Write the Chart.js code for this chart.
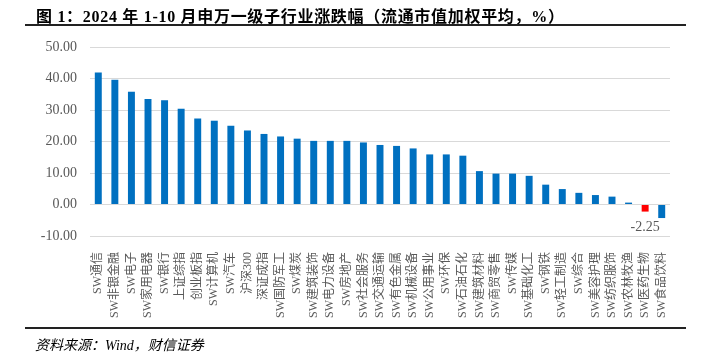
<!DOCTYPE html>
<html>
<head>
<meta charset="utf-8">
<script src="https://cdn.jsdelivr.net/npm/chart.js@4.4.1/dist/chart.umd.min.js"></script>
<style>
  html, body { margin: 0; padding: 0; background: #fff; }
  #wrap { position: relative; width: 706px; height: 361px; overflow: hidden; }
  #chart { position: absolute; left: 0; top: 0; }
  .titulo {
    position: absolute; left: 36px; top: 3px; white-space: nowrap; letter-spacing: 0.7px;
    font: bold 16px "Liberation Serif", "Noto Sans CJK SC", serif; color: #000;
  }
  .linea { position: absolute; left: 25px; width: 661px; background: #222; }
  .fuente {
    position: absolute; left: 35px; top: 334px; white-space: nowrap;
    font: italic 14px "Liberation Serif", "Noto Sans CJK SC", serif; color: #000;
  }
</style>
</head>
<body>
<div id="wrap">
  <canvas id="chart" width="706" height="361"></canvas>
  <div class="titulo">图 1：2024 年 1-10 月申万一级子行业涨跌幅（流通市值加权平均，%）</div>
  <div class="linea" style="top:24px;height:1.5px"></div>
  <div class="linea" style="top:327px;height:1.5px"></div>
  <div class="fuente">资料来源：Wind，财信证券</div>
</div>
<script>
/* ── Datos ── */
const categorias = [
  'SW通信', 'SW非银金融', 'SW电子', 'SW家用电器', 'SW银行', '上证综指', '创业板指',
  'SW计算机', 'SW汽车', '沪深300', '深证成指', 'SW国防军工', 'SW煤炭', 'SW建筑装饰',
  'SW电力设备', 'SW房地产', 'SW社会服务', 'SW交通运输', 'SW有色金属', 'SW机械设备',
  'SW公用事业', 'SW环保', 'SW石油石化', 'SW建筑材料', 'SW商贸零售', 'SW传媒',
  'SW基础化工', 'SW钢铁', 'SW轻工制造', 'SW综合', 'SW美容护理', 'SW纺织服饰',
  'SW农林牧渔', 'SW医药生物', 'SW食品饮料'
];
const valores = [
  41.9, 39.6, 35.8, 33.5, 33.1, 30.4, 27.3, 26.6, 25.0, 23.5, 22.4, 21.6, 20.9, 20.2,
  20.2, 20.2, 19.7, 18.9, 18.6, 17.8, 15.9, 15.9, 15.5, 10.6, 9.8, 9.8, 9.1, 6.3,
  4.9, 3.7, 3.0, 2.5, 0.6, -2.25, -4.3
];
const ticksY = [-10, 0, 10, 20, 30, 40, 50];
const destacado = 'SW医药生物';   // barra en rojo con etiqueta

const AZUL = '#0070C0';
const ROJO = '#FF0000';
const GRIS = '#595959';

/* ── Etiqueta de la barra destacada ── */
const etiquetaPlugin = {
  id: 'etiqueta',
  afterDatasetsDraw(chart) {
    const i = categorias.indexOf(destacado);
    const bar = chart.getDatasetMeta(0).data[i];
    if (!bar) return;
    const ctx = chart.ctx;
    ctx.save();
    ctx.font = '14px "Liberation Serif", serif';
    ctx.fillStyle = GRIS;
    ctx.textAlign = 'center';
    ctx.textBaseline = 'top';
    ctx.fillText(valores[i].toFixed(2), bar.x, bar.y + 9);
    ctx.restore();
  }
};

/* ── Gráfico ── */
const ctx = document.getElementById('chart').getContext('2d');
new Chart(ctx, {
  type: 'bar',
  data: {
    labels: categorias,
    datasets: [{
      data: valores,
      backgroundColor: categorias.map(c => c === destacado ? ROJO : AZUL),
      barPercentage: 0.42,
      categoryPercentage: 1,
    }]
  },
  options: {
    responsive: false,
    animation: false,
    layout: { padding: { top: 47, right: 36, left: 0, bottom: 0 } },
    plugins: { legend: { display: false }, tooltip: { enabled: false } },
    scales: {
      x: {
        grid: { display: false },
        border: { display: false },
        afterFit: s => { s.height = 125; },
        ticks: {
          autoSkip: false, minRotation: 90, maxRotation: 90, padding: 8,
          color: GRIS, font: { family: '"Liberation Serif", "Noto Sans CJK SC", serif', size: 12 },
        },
      },
      y: {
        min: ticksY[0],
        max: ticksY[ticksY.length - 1],
        afterFit: s => { s.width = 90; },
        afterBuildTicks: s => { s.ticks = ticksY.map(v => ({ value: v })); },
        grid: { color: '#d9d9d9', lineWidth: 1, drawTicks: false },
        border: { display: false },
        ticks: {
          padding: 13, color: GRIS,
          font: { family: '"Liberation Serif", serif', size: 14 },
          callback: v => Number(v).toFixed(2),
        },
      },
    },
  },
  plugins: [etiquetaPlugin],
});
</script>
</body>
</html>
